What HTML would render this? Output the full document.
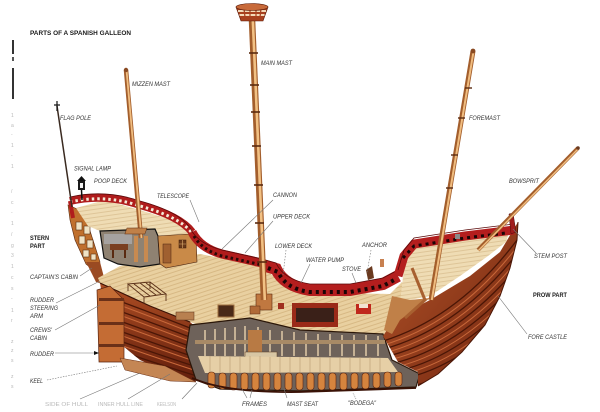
<!DOCTYPE html>
<html><head><meta charset="utf-8">
<style>
html,body{margin:0;padding:0;background:#fff;}
svg{display:block}
.l{font-family:"Liberation Sans",sans-serif;font-style:italic;font-size:6px;fill:#333;}
.b{font-family:"Liberation Sans",sans-serif;font-weight:bold;font-size:6.5px;fill:#1a1a1a;}
.f{font-family:"Liberation Sans",sans-serif;font-size:5px;fill:#b8b8b8;}
.ld{stroke:#777;stroke-width:0.6;fill:none;}
</style></head><body>
<svg width="600" height="412" viewBox="0 0 600 412" xmlns="http://www.w3.org/2000/svg">
<defs>
<linearGradient id="hullS" x1="0" y1="0" x2="0" y2="1">
 <stop offset="0" stop-color="#ae4e24"/><stop offset="1" stop-color="#621e0c"/>
</linearGradient>
<linearGradient id="hullB" x1="0" y1="0" x2="1" y2="1">
 <stop offset="0" stop-color="#b4552a"/><stop offset="1" stop-color="#70240e"/>
</linearGradient>
<pattern id="planks" width="4" height="4" patternUnits="userSpaceOnUse" patternTransform="rotate(-18)">
 <rect width="4" height="4" fill="#e9d0a0"/>
 <line x1="0" y1="0.5" x2="4" y2="0.5" stroke="#cfae78" stroke-width="0.7"/>
</pattern>
<pattern id="planksF" width="4" height="4" patternUnits="userSpaceOnUse" patternTransform="rotate(-8)">
 <rect width="4" height="4" fill="#efdcb4"/>
 <line x1="0" y1="0.5" x2="4" y2="0.5" stroke="#d4b686" stroke-width="0.6"/>
</pattern>
<clipPath id="cs"><path d="M100,283 L150,306 L190,322 L197,328 L190,360 L196,382 L170,374 L140,360 L118,342 L106,318 Z"/></clipPath>
<clipPath id="cb"><path d="M383,336 L395,318 L430,300 L470,276 L500,252 L512,232 L518,222 L517,240 L510,268 L500,296 L485,325 L462,352 L438,374 L418,386 L418,372 L398,362 L390,348 Z"/></clipPath>
</defs>

<!-- left edge artifacts -->
<rect x="12" y="40" width="2" height="14" fill="#333"/>
<rect x="12" y="57" width="2" height="4" fill="#555"/>
<rect x="12" y="68" width="2" height="31" fill="#333"/>
<g class="f">
<text x="11" y="117">1</text><text x="11" y="127">a</text><text x="11" y="136">-</text>
<text x="11" y="147">1</text><text x="11" y="157">-</text><text x="11" y="168">1</text>
<text x="11" y="193">/</text><text x="11" y="204">c</text><text x="11" y="214">-</text>
<text x="11" y="225">1</text><text x="11" y="236">/</text><text x="11" y="247">g</text>
<text x="11" y="257">3</text><text x="11" y="268">1</text><text x="11" y="279">c</text>
<text x="11" y="290">s</text><text x="11" y="300">-</text><text x="11" y="312">1</text>
<text x="11" y="322">r</text><text x="11" y="343">z</text><text x="11" y="352">z</text>
<text x="11" y="362">s</text><text x="11" y="378">z</text><text x="11" y="388">s</text>
</g>

<!-- stern face -->
<path d="M68,205 L84,212 L100,262 L96,272 L86,264 L75,240 L70,220 Z" fill="#c0702e" stroke="#5a2a10" stroke-width="0.6"/>
<g fill="#efe2c4" stroke="#5a3010" stroke-width="0.6">
<rect x="76" y="222" width="6" height="8"/><rect x="84" y="226" width="6" height="8"/>
<rect x="79" y="236" width="6" height="8"/><rect x="87" y="240" width="6" height="8"/>
<rect x="83" y="250" width="6" height="7"/><rect x="91" y="254" width="5" height="6"/>
</g>
<path d="M86,262 L100,262 L106,285 L96,282 Z" fill="#9a4a22"/>

<!-- poop deck floor -->
<path d="M76,208 L105,200 L140,210 L178,222 L190,236 L160,236 L130,232 L100,231 L88,226 Z" fill="url(#planksF)"/>

<!-- main deck -->
<path d="M98,278 L120,266 L160,258 L200,254 L262,266 L280,282 L300,292 L390,294 L402,282 L410,300 L398,318 L388,334 L300,330 L250,320 L196,324 L160,312 L125,296 L102,288 Z" fill="url(#planks)"/>

<!-- cabin cutaway -->
<path d="M100,231 L155,229 L158,236 L160,264 L140,267 L118,264 L104,258 Z" fill="#8f8272" stroke="#111" stroke-width="1.2"/>
<rect x="104" y="234" width="28" height="10" fill="#a6a2a0"/>
<rect x="110" y="244" width="18" height="6" fill="#7a3e20"/>
<rect x="112" y="250" width="2" height="8" fill="#5a2a10"/><rect x="124" y="250" width="2" height="8" fill="#5a2a10"/>
<rect x="134" y="236" width="4" height="26" fill="#c88a50"/><rect x="144" y="236" width="4" height="26" fill="#c88a50"/>
<!-- quarter cabin wall -->
<path d="M158,236 L190,234 L196,238 L197,262 L166,268 L160,264 Z" fill="#c98a48" stroke="#4a2410" stroke-width="0.6"/>
<rect x="163" y="244" width="8" height="19" fill="#a06030" stroke="#4a2410" stroke-width="0.5"/>
<rect x="179" y="240" width="7" height="8" fill="#6a3a1a" stroke="#3a1a0a" stroke-width="0.5"/>
<path d="M182.5,240 V248 M179,244 H186" stroke="#e0b070" stroke-width="0.6"/>

<!-- stern hull -->
<path d="M100,283 L150,306 L190,322 L197,328 L190,360 L196,382 L170,374 L140,360 L118,342 L106,318 Z" fill="url(#hullS)"/>
<g clip-path="url(#cs)" fill="none">
<path d="M95,292 Q150,312 200,332 M95,302 Q150,322 200,341 M95,312 Q150,332 200,350 M95,322 Q150,342 200,359 M95,332 Q150,352 200,368 M95,342 Q150,362 200,377" stroke="#4a1606" stroke-width="1.3"/>
<path d="M95,296 Q150,316 200,336 M95,306 Q150,326 200,345 M95,316 Q150,336 200,354 M95,326 Q150,346 200,363 M95,336 Q150,356 200,372" stroke="#c8683a" stroke-width="1"/>
</g>
<path d="M100,283 L150,306 L190,322" stroke="#3a1206" stroke-width="1.2" fill="none"/>

<!-- rudder -->
<path d="M97,290 L110,286 L124,300 L124,362 L99,362 Z" fill="#c46c34" stroke="#5a2410" stroke-width="0.7"/>
<rect x="99" y="298" width="25" height="3" fill="#6a3018"/>
<rect x="99" y="322" width="25" height="3" fill="#6a3018"/>
<rect x="99" y="344" width="25" height="3" fill="#6a3018"/>
<!-- keel -->
<path d="M120,358 L165,366 L196,382 L170,381 L125,370 Z" fill="#c48654" stroke="#6a3018" stroke-width="0.5"/>

<!-- hold cutaway -->
<path d="M190,325 L250,318 L300,330 L383,334 L392,360 L420,374 L416,387 L300,391 L220,389 L196,380 L186,350 Z" fill="#6e625a" stroke="#2a1608" stroke-width="1.2"/>
<g stroke="#c4b094" stroke-width="2">
<path d="M205,330 V356 M215,329 V356 M225,328 V356 M235,327 V356 M245,326 V356 M258,327 V356 M270,330 V356 M282,331 V356 M294,332 V356 M306,333 V356 M318,334 V356 M330,334 V356 M342,335 V356 M354,335 V356 M366,335 V356 M378,336 V356"/>
</g>
<rect x="195" y="340" width="190" height="4" fill="#a88a66"/>
<rect x="248" y="330" width="14" height="30" fill="#b87a44"/>
<rect x="245" y="352" width="32" height="8" fill="#d8c6a4" stroke="#5a3a20" stroke-width="0.5"/>
<path d="M198,356 L388,358 L398,372 L205,373 Z" fill="#e6cfa6"/>
<g stroke="#b89a70" stroke-width="0.6">
<path d="M210,356 V373 M220,356 V373 M230,356 V373 M240,356 V373 M250,356 V373 M260,356 V373 M270,357 V373 M280,357 V373 M290,357 V373 M300,357 V373 M310,357 V373 M320,357 V373 M330,357 V373 M340,357 V373 M350,357 V373 M360,357 V373 M370,357 V373 M380,358 V373"/>
</g>
<g fill="#d5843e" stroke="#5a2410" stroke-width="0.6">
<rect x="208" y="372" width="7" height="16" rx="3"/><rect x="219" y="373" width="7" height="16" rx="3"/>
<rect x="230" y="373" width="7" height="17" rx="3"/><rect x="241" y="373" width="7" height="17" rx="3"/>
<rect x="252" y="373" width="7" height="17" rx="3"/><rect x="263" y="373" width="7" height="17" rx="3"/>
<rect x="274" y="373" width="7" height="17" rx="3"/><rect x="285" y="373" width="7" height="17" rx="3"/>
<rect x="296" y="373" width="7" height="17" rx="3"/><rect x="307" y="373" width="7" height="17" rx="3"/>
<rect x="318" y="373" width="7" height="17" rx="3"/><rect x="329" y="373" width="7" height="17" rx="3"/>
<rect x="340" y="373" width="7" height="17" rx="3"/><rect x="351" y="373" width="7" height="16" rx="3"/>
<rect x="362" y="373" width="7" height="16" rx="3"/><rect x="373" y="373" width="7" height="15" rx="3"/>
<rect x="384" y="372" width="7" height="15" rx="3"/><rect x="395" y="372" width="7" height="14" rx="3"/>
</g>
<path d="M192,378 Q225,393 300,392 L416,388" stroke="#3a1206" stroke-width="1.8" fill="none"/>

<!-- bow hull -->
<path d="M383,336 L395,318 L430,300 L470,276 L500,252 L512,232 L518,222 L517,240 L510,268 L500,296 L485,325 L462,352 L438,374 L418,386 L418,372 L398,362 L390,348 Z" fill="url(#hullB)"/>
<g clip-path="url(#cb)" fill="none">
<path d="M380,342 Q460,318 520,236 M380,350 Q458,330 520,250 M380,358 Q456,342 520,264 M380,366 Q454,354 520,278 M380,374 Q452,366 520,292 M380,382 Q450,378 520,306 M380,390 Q448,390 520,320" stroke="#4a1606" stroke-width="1.3"/>
<path d="M380,346 Q459,324 520,243 M380,354 Q457,336 520,257 M380,362 Q455,348 520,271 M380,370 Q453,360 520,285 M380,378 Q451,372 520,299" stroke="#c8683a" stroke-width="1"/>
</g>
<path d="M518,222 L517,240 L510,268 L500,296 L485,325 L462,352 L438,374 L418,386" stroke="#4a1606" stroke-width="1" fill="none"/>

<!-- forecastle deck & bow interior -->
<path d="M406,252 L416,242 L465,234 L510,229 L506,242 L488,256 L460,276 L430,296 L400,302 Z" fill="url(#planksF)"/>
<path d="M392,296 L410,300 L430,298 L400,320 L392,334 L384,330 Z" fill="#c08048"/>
<path d="M412,268 L425,300 L405,318" stroke="#a86030" stroke-width="3" fill="none"/>
<!-- deck details -->
<g stroke="#5a3018" stroke-width="0.9" fill="none">
<path d="M128,284 L150,282 L166,294 L144,297 Z"/>
<path d="M134,284 L150,296 M140,283 L156,295 M146,283 L161,294"/>
<path d="M128,284 V291 M150,282 V289 M166,294 V301 M144,297 V304"/>
</g>
<rect x="218" y="305" width="16" height="12" fill="#4a2a18" stroke="#a07040" stroke-width="1"/>
<rect x="176" y="312" width="18" height="8" fill="#b88050" stroke="#5a3018" stroke-width="0.5"/>
<rect x="292" y="303" width="46" height="24" fill="#9a2a18"/>
<rect x="296" y="308" width="38" height="14" fill="#3a2018"/>
<rect x="356" y="304" width="15" height="10" fill="#c0281c"/>
<rect x="359" y="304" width="9" height="4" fill="#f2e2d0"/>
<rect x="256" y="294" width="16" height="16" fill="#c07840" stroke="#5a2a10" stroke-width="0.6"/>
<rect x="250" y="306" width="10" height="8" fill="#b06a38" stroke="#5a2a10" stroke-width="0.5"/>
<rect x="278" y="303" width="6" height="6" fill="#a03020"/>

<!-- poop rail -->
<path d="M70,201 Q105,193 140,205 Q180,216 192,232" stroke="#b01c1c" stroke-width="8" fill="none"/>
<path d="M70,202 Q105,194 140,206 Q180,217 192,233" stroke="#f4ead8" stroke-width="3" stroke-dasharray="2.5 3" fill="none"/>
<path d="M192,232 Q200,248 222,254 L262,263" stroke="#b01c1c" stroke-width="9" fill="none"/>
<path d="M194,236 Q202,250 222,256 L262,265" stroke="#2a0a08" stroke-width="3" stroke-dasharray="2.5 3" fill="none"/>
<path d="M70,197 Q105,189 140,201 Q180,212 190,228 Q198,244 222,250 L262,259" stroke="#5a0a0a" stroke-width="0.8" fill="none"/>
<path d="M70,201 L73,218" stroke="#b01c1c" stroke-width="4"/>

<!-- waist rail -->
<path d="M262,265 L276,269 Q284,286 310,290 L350,290 L383,284 L398,276" stroke="#b41e1e" stroke-width="12" fill="none"/>
<path d="M268,268 L278,272 Q286,289 310,292 L350,292 L383,286 L396,279" stroke="#1a0606" stroke-width="4" stroke-dasharray="3 4" fill="none"/>
<path d="M262,259 L276,263 Q284,280 310,284 L350,284 L383,278 L398,270" stroke="#5a0a0a" stroke-width="0.8" fill="none"/>
<!-- forecastle rail -->
<path d="M398,276 L404,256 L414,244 L465,236 L514,230" stroke="#b41e1e" stroke-width="9" fill="none"/>
<path d="M403,258 L414,246 L465,238 L506,233" stroke="#1a0606" stroke-width="3" stroke-dasharray="3 4" fill="none"/>
<path d="M398,270 L404,250 L414,238 L465,230 L514,224" stroke="#5a0a0a" stroke-width="0.8" fill="none"/>
<path d="M509,214 L513,213 L516,232 L511,234 Z" fill="#a01c1c" stroke="#4a0a0a" stroke-width="0.5"/>
<!-- anchor/stove bits -->
<path d="M366,270 L372,266 L374,278 L368,280 Z" fill="#6a3a20"/>
<rect x="380" y="259" width="4" height="8" fill="#c88050"/>
<rect x="455" y="234" width="5" height="5" fill="#8a8a8a"/>

<!-- flag pole & signal lamp -->
<line x1="57" y1="106" x2="72" y2="207" stroke="#3a2a20" stroke-width="1.5"/>
<line x1="57" y1="101" x2="57" y2="111" stroke="#111" stroke-width="1.2"/>
<line x1="54" y1="105" x2="60" y2="105" stroke="#111" stroke-width="1.2"/>
<line x1="81.5" y1="190" x2="82" y2="200" stroke="#111" stroke-width="1.5"/>
<path d="M77,181 L81.5,176 L86,181 Z" fill="#111"/>
<rect x="78" y="181" width="7" height="9" fill="#1a1a1a"/>
<rect x="80" y="183" width="3" height="5" fill="#f4f4f4"/>

<!-- mizzen mast -->
<line x1="126" y1="70" x2="141" y2="238" stroke="#a35e2c" stroke-width="4.5"/>
<line x1="126.5" y1="70" x2="141.5" y2="238" stroke="#f0bd80" stroke-width="1.8"/>
<circle cx="126" cy="70" r="2.2" fill="#8a4a22"/>
<rect x="130" y="228" width="20" height="6" fill="#c08048" stroke="#5a2a10" stroke-width="0.5" transform="skewX(-20) translate(80,0)"/>

<!-- main mast -->
<line x1="252" y1="20" x2="264" y2="300" stroke="#a35e2c" stroke-width="6.5"/>
<line x1="252.8" y1="20" x2="264.8" y2="300" stroke="#f2c184" stroke-width="2.6"/>
<g stroke="#5a2a10" stroke-width="1.6">
<line x1="249" y1="53" x2="258" y2="53"/><line x1="250" y1="85" x2="259" y2="85"/>
<line x1="251" y1="112" x2="260" y2="112"/><line x1="252" y1="146" x2="261" y2="146"/>
<line x1="254" y1="185" x2="263" y2="185"/><line x1="255" y1="223" x2="264" y2="223"/>
<line x1="257" y1="262" x2="267" y2="262"/>
</g>
<!-- crow's nest -->
<path d="M236,7 L241,21 L263,21 L268,7 Z" fill="#a8401e" stroke="#5a1a08" stroke-width="0.6"/>
<rect x="238" y="10" width="28" height="2" fill="#f3d9b8"/>
<rect x="239.5" y="14" width="25" height="2" fill="#f3d9b8"/>
<g stroke="#a8401e" stroke-width="1.2">
<line x1="244" y1="9" x2="245" y2="17"/><line x1="250" y1="9" x2="250" y2="17"/><line x1="256" y1="9" x2="256" y2="17"/><line x1="261" y1="9" x2="260" y2="17"/>
</g>
<ellipse cx="252" cy="7" rx="16" ry="3.5" fill="#c86a3a" stroke="#5a1a08" stroke-width="0.6"/>

<!-- foremast -->
<line x1="473" y1="51" x2="431" y2="300" stroke="#a35e2c" stroke-width="5"/>
<line x1="473.6" y1="51" x2="431.8" y2="300" stroke="#f0bd80" stroke-width="2"/>
<circle cx="473" cy="51" r="2.4" fill="#8a4a22"/>
<g stroke="#5a2a10" stroke-width="1.4">
<line x1="465" y1="88" x2="472" y2="88"/><line x1="458" y1="118" x2="465" y2="118"/>
<line x1="451" y1="155" x2="458" y2="155"/><line x1="446" y1="188" x2="453" y2="188"/>
</g>
<!-- bowsprit -->
<line x1="578" y1="148" x2="478" y2="250" stroke="#a35e2c" stroke-width="4"/>
<line x1="578.5" y1="148.5" x2="478.5" y2="250.5" stroke="#f0bd80" stroke-width="1.5"/>
<circle cx="578" cy="148" r="1.8" fill="#6a3a20"/>

<!-- leader lines -->
<g class="ld">
<line x1="190" y1="200" x2="199" y2="222"/>
<line x1="273" y1="200" x2="222" y2="249"/>
<line x1="273" y1="221" x2="245" y2="253"/>
<line x1="286" y1="250" x2="283" y2="275" stroke-dasharray="1.5 1.5"/>
<line x1="310" y1="264" x2="301" y2="283"/>
<line x1="352" y1="273" x2="356" y2="283"/>
<line x1="371" y1="250" x2="367" y2="273" stroke-dasharray="1.5 1.5"/>
<line x1="536" y1="253" x2="513" y2="229"/>
<line x1="527" y1="334" x2="498" y2="296"/>
<line x1="80" y1="276" x2="92" y2="268"/>
<line x1="56" y1="303" x2="100" y2="281"/>
<line x1="55" y1="330" x2="100" y2="305"/>
<line x1="55" y1="353" x2="95" y2="353"/>
<line x1="47" y1="380" x2="117" y2="366" stroke-dasharray="1.5 1.2"/>
<line x1="80" y1="399" x2="140" y2="373"/>
<line x1="128" y1="399" x2="170" y2="374"/>
<line x1="182" y1="399" x2="197" y2="383"/>
<line x1="247" y1="398" x2="242" y2="389"/>
<line x1="250" y1="398" x2="252" y2="390"/>
<line x1="287" y1="398" x2="284" y2="389"/>
<line x1="356" y1="399" x2="353" y2="393" stroke-dasharray="1 1"/>
</g>
<path d="M99,353 L94,351 L94,355 Z" fill="#111"/>

<!-- labels -->
<text class="b" x="30" y="35" font-size="7" textLength="101" lengthAdjust="spacingAndGlyphs">PARTS OF A SPANISH GALLEON</text>
<text class="l" x="261" y="65" textLength="31" lengthAdjust="spacingAndGlyphs">MAIN MAST</text>
<text class="l" x="132" y="86" textLength="38" lengthAdjust="spacingAndGlyphs">MIZZEN MAST</text>
<text class="l" x="60" y="120" textLength="31" lengthAdjust="spacingAndGlyphs">FLAG POLE</text>
<text class="l" x="74" y="170.5" textLength="37" lengthAdjust="spacingAndGlyphs">SIGNAL LAMP</text>
<text class="l" x="94" y="183" textLength="33" lengthAdjust="spacingAndGlyphs">POOP DECK</text>
<text class="l" x="157" y="198" textLength="32" lengthAdjust="spacingAndGlyphs">TELESCOPE</text>
<text class="l" x="273" y="197" textLength="24" lengthAdjust="spacingAndGlyphs">CANNON</text>
<text class="l" x="273" y="218.5" textLength="37" lengthAdjust="spacingAndGlyphs">UPPER DECK</text>
<text class="l" x="275" y="248" textLength="37" lengthAdjust="spacingAndGlyphs">LOWER DECK</text>
<text class="l" x="306" y="262" textLength="38" lengthAdjust="spacingAndGlyphs">WATER PUMP</text>
<text class="l" x="342" y="271" textLength="19" lengthAdjust="spacingAndGlyphs">STOVE</text>
<text class="l" x="362" y="247" textLength="25" lengthAdjust="spacingAndGlyphs">ANCHOR</text>
<text class="l" x="469" y="120" textLength="31" lengthAdjust="spacingAndGlyphs">FOREMAST</text>
<text class="l" x="509" y="183" textLength="30" lengthAdjust="spacingAndGlyphs">BOWSPRIT</text>
<text class="l" x="534" y="258" textLength="33" lengthAdjust="spacingAndGlyphs">STEM POST</text>
<text class="b" x="533" y="297" textLength="34" lengthAdjust="spacingAndGlyphs">PROW PART</text>
<text class="l" x="528" y="339" textLength="39" lengthAdjust="spacingAndGlyphs">FORE CASTLE</text>
<text class="l" x="348" y="405" textLength="28" lengthAdjust="spacingAndGlyphs">"BODEGA"</text>
<text class="l" x="287" y="406" textLength="31" lengthAdjust="spacingAndGlyphs">MAST SEAT</text>
<text class="l" x="242" y="406" textLength="25" lengthAdjust="spacingAndGlyphs">FRAMES</text>
<text class="b" x="30" y="240" textLength="19" lengthAdjust="spacingAndGlyphs">STERN</text>
<text class="b" x="30" y="248" textLength="15" lengthAdjust="spacingAndGlyphs">PART</text>
<text class="l" x="30" y="279" textLength="48" lengthAdjust="spacingAndGlyphs">CAPTAIN'S CABIN</text>
<text class="l" x="30" y="302" textLength="24" lengthAdjust="spacingAndGlyphs">RUDDER</text>
<text class="l" x="30" y="310" textLength="28" lengthAdjust="spacingAndGlyphs">STEERING</text>
<text class="l" x="30" y="318" textLength="13" lengthAdjust="spacingAndGlyphs">ARM</text>
<text class="l" x="30" y="332" textLength="22" lengthAdjust="spacingAndGlyphs">CREWS'</text>
<text class="l" x="30" y="340" textLength="17" lengthAdjust="spacingAndGlyphs">CABIN</text>
<text class="l" x="30" y="356" textLength="24" lengthAdjust="spacingAndGlyphs">RUDDER</text>
<text class="l" x="30" y="383" textLength="13" lengthAdjust="spacingAndGlyphs">KEEL</text>
<text class="f" x="45" y="406" textLength="43" lengthAdjust="spacingAndGlyphs">SIDE OF HULL</text>
<text class="f" x="98" y="406" textLength="45" lengthAdjust="spacingAndGlyphs">INNER HULL LINE</text>
<text class="f" x="157" y="406" textLength="19" lengthAdjust="spacingAndGlyphs">KEELSON</text>
</svg>
</body></html>
